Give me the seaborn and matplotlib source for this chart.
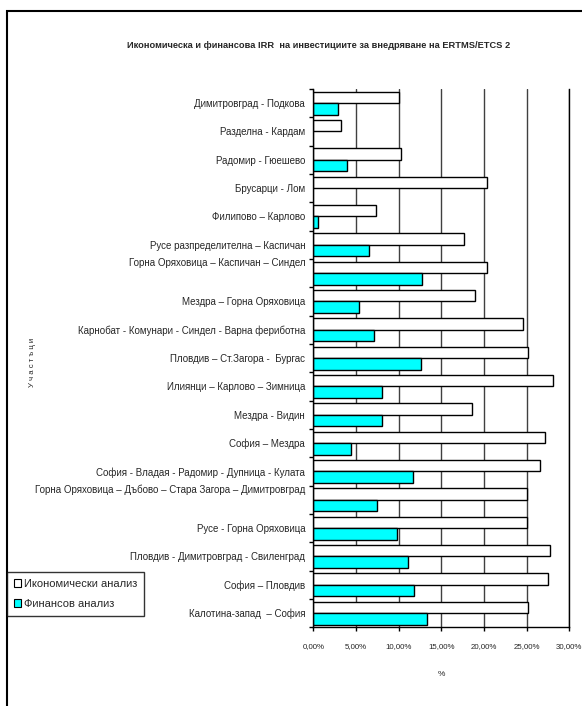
import numpy as np
import pandas as pd
import seaborn as sns
import matplotlib.pyplot as plt
from matplotlib.ticker import FixedLocator, FuncFormatter
from matplotlib.patches import Rectangle, Patch

# --- data -------------------------------------------------------------
sections = [
    "Димитровград - Подкова",
    "Разделна - Кардам",
    "Радомир - Гюешево",
    "Брусарци - Лом",
    "Филипово – Карлово",
    "Русе разпределителна – Каспичан",
    "Горна Оряховица – Каспичан – Синдел",
    "Мездра – Горна Оряховица",
    "Карнобат - Комунари - Синдел - Варна фериботна",
    "Пловдив – Ст.Загора -  Бургас",
    "Илиянци – Карлово – Зимница",
    "Мездра - Видин",
    "София – Мездра",
    "София - Владая - Радомир - Дупница - Кулата",
    "Горна Оряховица – Дъбово – Стара Загора – Димитровград",
    "Русе - Горна Оряховица",
    "Пловдив - Димитровград - Свиленград",
    "София – Пловдив",
    "Калотина-запад  – София",
]
# IRR, %
economic_irr = [10.0, 3.2, 10.3, 20.3, 7.3, 17.7, 20.4, 19.0, 24.6, 25.2,
                28.1, 18.6, 27.15, 26.6, 25.1, 25.0, 27.7, 27.5, 25.2]
financial_irr = [2.9, np.nan, 3.9, np.nan, 0.5, 6.5, 12.7, 5.3, 7.15, 12.6,
                 8.0, 8.0, 4.4, 11.7, 7.5, 9.85, 11.1, 11.8, 13.35]
series_names = ["Икономически анализ", "Финансов анализ"]
x_ticks = [0, 5, 10, 15, 20, 25, 30]
# labels whose text sits on the upper line of a wrapped cell
top_aligned_labels = {
    "Горна Оряховица – Каспичан – Синдел",
    "Горна Оряховица – Дъбово – Стара Загора – Димитровград",
}

title = "Икономическа и финансова IRR  на инвестициите за внедряване на ERTMS/ETCS 2"

# --- figure -----------------------------------------------------------
sns.set_theme(style="white")
plt.rcParams["font.family"] = ["Liberation Sans", "DejaVu Sans"]

W, H = 582, 706
fig = plt.figure(figsize=(W / 100, H / 100), dpi=100)
fig.patch.set_facecolor("white")

x0, x1, y0, y1 = 313.3, 569.3, 89.0, 627.3
ax = fig.add_axes([x0 / W, 1 - y1 / H, (x1 - x0) / W, (y1 - y0) / H])

df = pd.DataFrame({
    "Участък": sections * 2,
    "IRR": economic_irr + financial_irr,
    "Анализ": [series_names[0]] * len(sections) + [series_names[1]] * len(sections),
})
colors = {series_names[0]: "white", series_names[1]: "#00FFFF"}

sns.barplot(data=df, y="Участък", x="IRR", hue="Анализ", hue_order=series_names,
            order=sections, orient="h", palette=colors, saturation=1,
            edgecolor="black", linewidth=1, width=0.82, errorbar=None,
            legend=False, ax=ax)

# axes styling
ax.set_xlim(0, 30)
ax.xaxis.set_major_locator(FixedLocator(x_ticks))
ax.xaxis.set_major_formatter(FuncFormatter(lambda v, p: f"{v:.2f}%".replace(".", ",")))
ax.grid(axis="x", color="#404040", linewidth=1)
ax.grid(axis="y", visible=False)
ax.set_axisbelow(True)

for side in ["left", "bottom", "right"]:
    ax.spines[side].set_visible(True)
    ax.spines[side].set_color("black")
    ax.spines[side].set_linewidth(1)
ax.spines["top"].set_visible(False)

ax.set_yticks(range(len(sections)))
ax.set_yticklabels([s + "\n\n" if s in top_aligned_labels else s for s in sections],
                   fontsize=7)
ax.yaxis.set_minor_locator(FixedLocator(np.arange(-0.5, len(sections), 1.0)))
ax.tick_params(axis="y", which="major", length=0, pad=5.8)
ax.tick_params(axis="y", which="minor", length=3, width=1, direction="out",
               color="black", left=True)
ax.tick_params(axis="x", which="major", length=3, width=1, direction="out",
               color="black", bottom=True, labelsize=5.7, pad=8)
ax.set_xlabel("")
ax.set_ylabel("")

# texts
fig.text(319 / W, 1 - 45 / H, title, ha="center", va="center",
         fontsize=6.7, fontweight="bold")
fig.text(441.5 / W, 1 - 675 / H, "%", ha="center", va="center", fontsize=6)
fig.text(33 / W, 1 - 362 / H, "У ч а с т ъ ц и", ha="center", va="center",
         rotation=90, fontsize=5.6)

# legend
handles = [Patch(facecolor=colors[n], edgecolor="black", linewidth=0.8) for n in series_names]
leg = fig.legend(handles, series_names, loc="upper left",
                 bbox_to_anchor=(7 / W, 1 - 572 / H), bbox_transform=fig.transFigure,
                 fontsize=8, frameon=True, fancybox=False, borderaxespad=0,
                 handlelength=0.7, handleheight=0.7, handletextpad=0.25,
                 borderpad=0.6, labelspacing=0.95)
leg.get_frame().set_edgecolor("black")
leg.get_frame().set_linewidth(1)

# chart frame
fig.add_artist(Rectangle((7 / W, -0.1), 1.2, (H - 11) / H + 0.1,
                         transform=fig.transFigure, fill=False,
                         edgecolor="black", linewidth=1.5))

fig.savefig("out.png", dpi=100, facecolor="white")
